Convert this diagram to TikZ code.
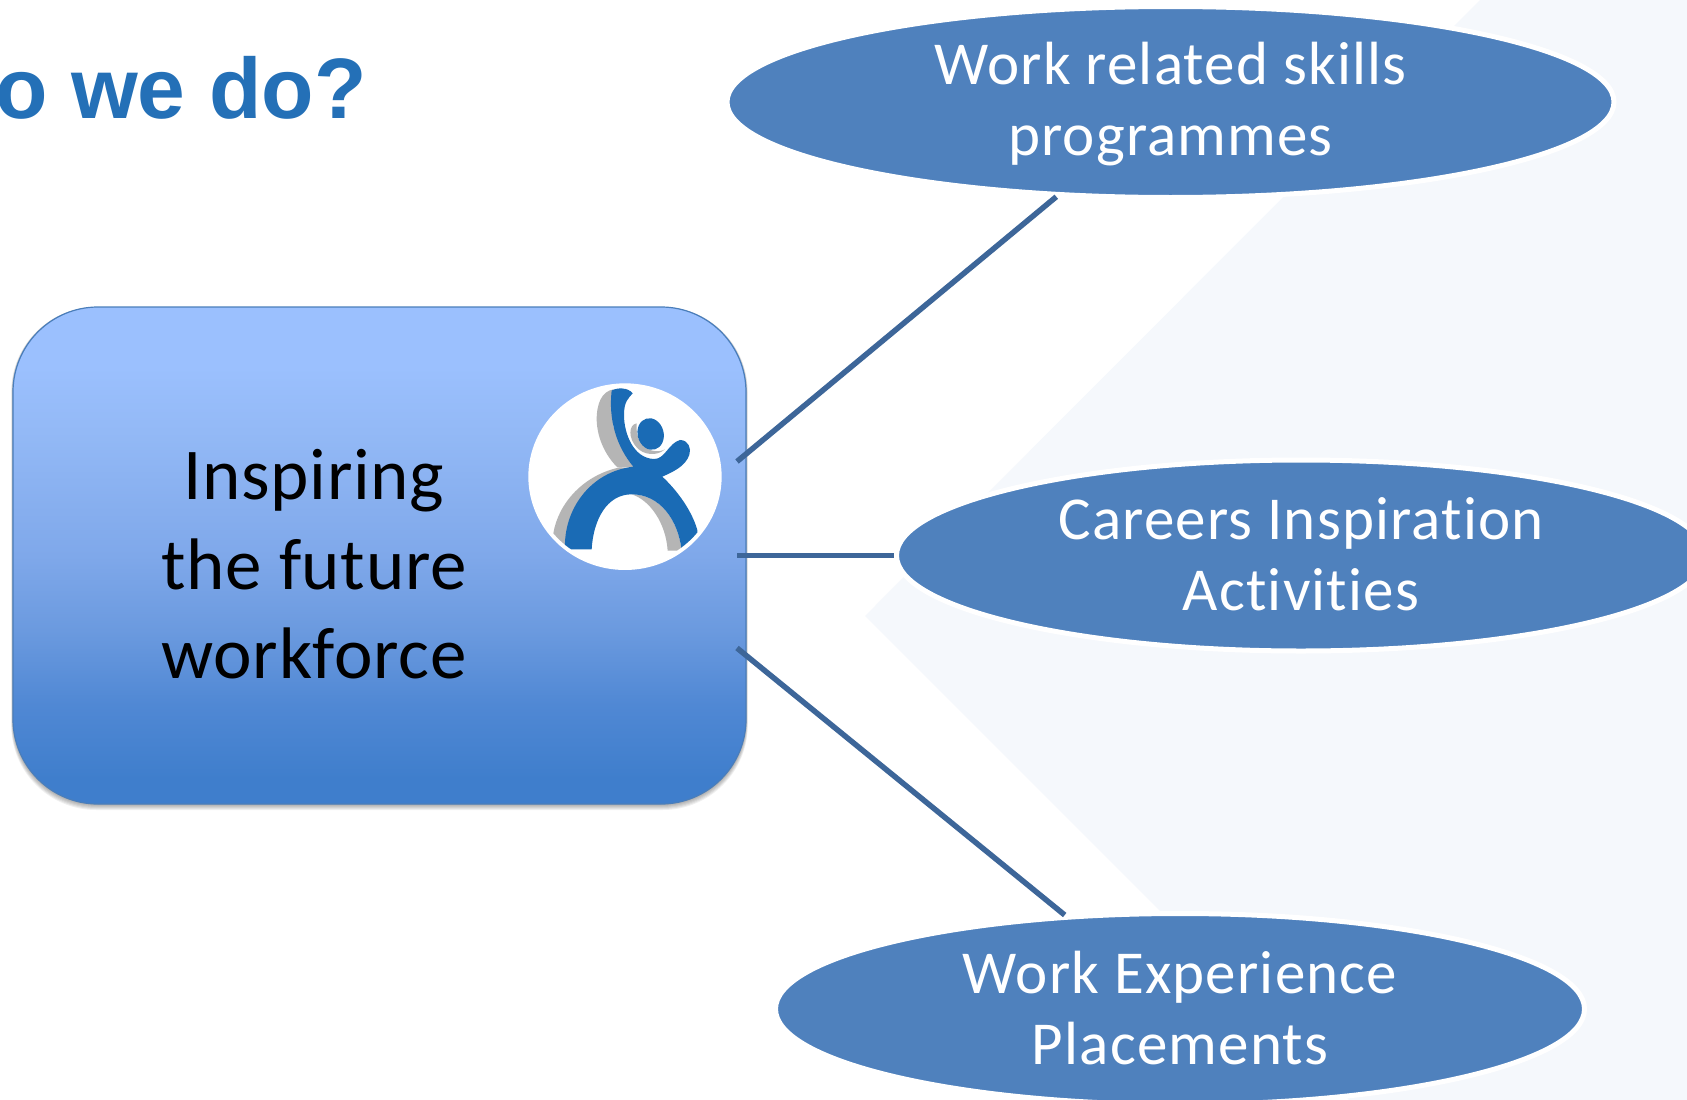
\documentclass[tikz,border=0pt]{standalone}
\usepackage{fontspec}
\setmainfont{Carlito}
\newfontfamily\titlefam{Liberation Sans}
\newfontfamily\skillfam[LetterSpace=1.9,Ligatures=NoCommon]{Carlito}
\newfontfamily\hubfam[LetterSpace=0.9,Ligatures=NoCommon]{Carlito}
\usetikzlibrary{shapes.geometric}
\definecolor{ellfill}{HTML}{4F81BD}
\definecolor{linecol}{HTML}{3D6699}
\definecolor{palebg}{HTML}{F5F8FC}
\definecolor{titlecol}{HTML}{2470B7}
\definecolor{logoblue}{HTML}{1A6BB5}
\definecolor{logogrey}{HTML}{B5B5B5}
\definecolor{boxedge}{HTML}{4A7EBB}
\definecolor{gradA}{HTML}{9BC0FE}
\definecolor{gradAB}{HTML}{93B9F6}
\definecolor{gradB}{HTML}{7FA8EA}
\definecolor{gradC}{HTML}{6B9ADF}
\definecolor{gradCD}{HTML}{5088D4}
\definecolor{gradD}{HTML}{3F7ECC}
\pgfdeclareverticalshading{boxgrad}{100bp}{color(0bp)=(gradD); color(27.5bp)=(gradD); color(35bp)=(gradCD); color(42.5bp)=(gradC); color(50bp)=(gradB); color(62.5bp)=(gradAB); color(69bp)=(gradA); color(100bp)=(gradA)}
\tikzset{
  skill/.style={ellipse, draw=white, line width=5pt, fill=ellfill, text=white, align=center, inner sep=0pt, minimum height=191pt, font=\skillfam\fontsize{61}{71}\selectfont},
  hub/.style={rectangle, rounded corners=85pt, draw=boxedge, line width=1.2pt, shading=boxgrad, minimum width=733pt, minimum height=497pt, inner sep=0pt},
  link/.style={draw=linecol, line width=5.5pt},
  softshadow/.style={fill=black, fill opacity=0.06, draw=none, rounded corners=85pt}
}
\begin{document}
\begin{tikzpicture}[x=1pt,y=-1pt]
\clip (0,0) rectangle (1687,1100);
\fill[white] (0,0) rectangle (1687,1100);
\fill[palebg] (1480,0) -- (865,616) -- (1349,1100) -- (1687,1100) -- (1687,0) -- cycle;
% title
\node[anchor=base east, inner sep=0pt, text=titlecol, font=\titlefam\bfseries\fontsize{85.8}{90}\selectfont] (title) at (367,118) {o we do?};
% hub shadow
\foreach \d in {1,...,6}{
  \path[softshadow] (13-\d*0.3,307) rectangle (746+\d*0.3,804+\d);
}
\node[hub] (hub) at (379.5,555.5) {};
\node[anchor=center, inner sep=0pt, align=center, font=\hubfam\fontsize{73}{89.5}\selectfont, text=black] (hubtext) at (314,564.5) {Inspiring\\the future\\workforce};
% logo
\begin{scope}[shift={(500,360)}, x=0.3333pt, y=-0.3333pt]
  \fill[white] (375,350) ellipse [x radius=290, y radius=280];
  \begin{scope}
    \clip (375,350) ellipse [x radius=278, y radius=268];
    % grey shadows
    \fill[logogrey] (340,88) .. controls (305,95) and (290,130) .. (290,180) .. controls (292,240) and (320,290) .. (352,322) -- (400,322) -- (340,200) -- cycle;
    \fill[logogrey] (160,520) .. controls (175,430) and (250,345) .. (360,322) -- (395,325) -- (300,360) -- (200,575) -- cycle;
    \fill[logogrey] (395,403) .. controls (480,403) and (535,480) .. (545,572) -- (503,572) .. controls (498,490) and (450,420) .. (395,403) -- cycle;
    % figure
    \fill[logoblue] (335,92) .. controls (350,82) and (385,82) .. (398,100)
      .. controls (385,115) and (372,125) .. (372,165)
      .. controls (372,220) and (400,295) .. (462,297)
      .. controls (495,298) and (505,250) .. (540,240)
      .. controls (565,240) and (575,265) .. (568,285)
      .. controls (555,320) and (520,335) .. (487,350)
      .. controls (530,390) and (575,450) .. (592,510)
      -- (592,525) -- (545,572)
      .. controls (535,480) and (480,403) .. (395,403)
      .. controls (320,403) and (280,480) .. (275,568)
      -- (195,568)
      .. controls (190,450) and (270,335) .. (400,320)
      .. controls (350,260) and (325,180) .. (335,92) -- cycle;
    \fill[logogrey] (410,190) .. controls (385,195) and (385,235) .. (410,262) .. controls (430,285) and (470,290) .. (495,268) .. controls (475,280) and (430,275) .. (415,235) .. controls (408,215) and (410,200) .. (410,190) -- cycle;
    \fill[logoblue, rotate around={15:(452,222)}] (452,222) ellipse [x radius=39, y radius=48];
  \end{scope}
\end{scope}
% ellipses
\node[skill, minimum width=887pt] (e1) at (1170.5,102) {\rule{0pt}{46pt}Work related skills\\programmes};
\node[skill, minimum width=809pt] (e2) at (1301,555.5) {Careers Inspiration\\Activities\rule[-3pt]{0pt}{1pt}};
\node[skill, minimum width=809pt] (e3) at (1180,1009) {Work Experience\\Placements\rule[-3pt]{0pt}{1pt}};
% connectors
\coordinate (s1) at (737,461.5);
\coordinate (s2) at (737,555.5);
\coordinate (s3) at (737,648);
\draw[link] (s1) -- (e1);
\draw[link] (s2) -- (e2);
\draw[link] (s3) -- (e3);
\end{tikzpicture}
\end{document}
